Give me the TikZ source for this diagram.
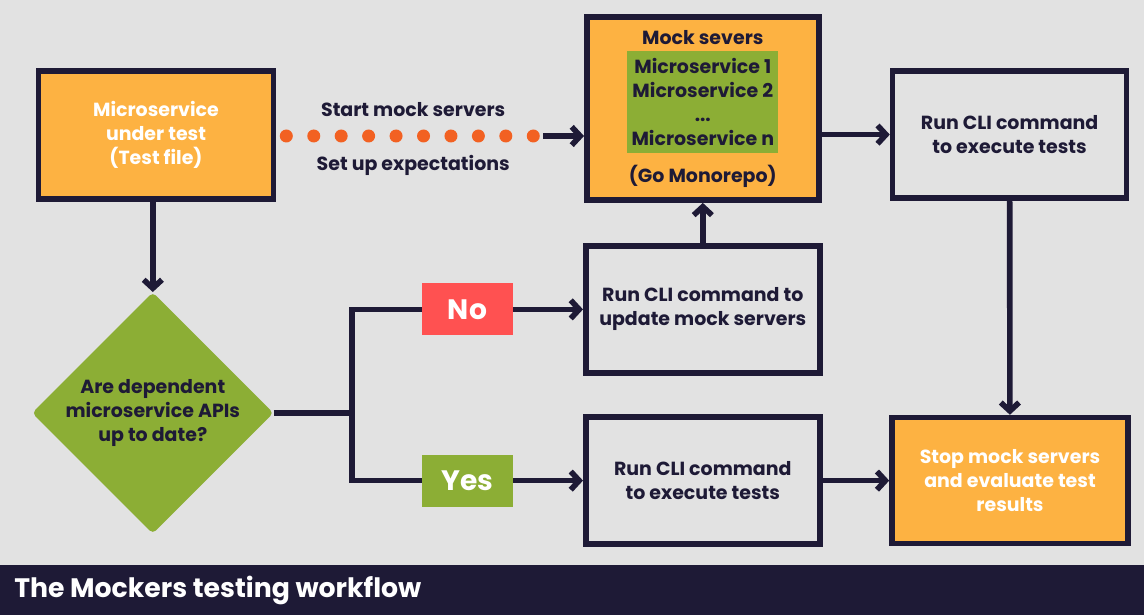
\documentclass[tikz,border=0pt]{standalone}
\usepackage{fontspec}
\setmainfont{Poppins}
\usepackage{tikz}
\usetikzlibrary{shapes.geometric, arrows.meta, positioning, calc}
\definecolor{mocknavy}{HTML}{1E1A36}
\definecolor{mockorange}{HTML}{FDB242}
\definecolor{mockgreen}{HTML}{8CAE35}
\definecolor{mockred}{HTML}{FF5151}
\definecolor{mockdot}{HTML}{F26122}
\definecolor{mockbg}{HTML}{E2E2E2}

\begin{document}
\begin{tikzpicture}[
    every node/.style={font=\fontsize{13.5}{17}\selectfont\bfseries, text=mocknavy},
    stepbox/.style={rectangle, draw=mocknavy, line width=4pt, fill=#1,
                    minimum width=5.85cm, minimum height=3.175cm, align=center},
    stepbox/.default=mockbg,
    question/.style={diamond, fill=mockgreen, aspect=1, inner sep=0pt,
                     minimum width=5.85cm, minimum height=5.85cm, align=center,
                     rounded corners=3pt},
    answer/.style={rectangle, fill=#1, text=white, minimum width=2.275cm,
                   minimum height=1.3cm, font=\fontsize{20}{24}\selectfont\bfseries},
    arrow/.style={-{Straight Barb[length=6pt,width=13pt]}, line width=4pt, mocknavy},
    line/.style={line width=4pt, mocknavy},
    dotline/.style={line width=0.325cm, mockdot, line cap=round,
                    dash pattern=on 0pt off 0.686cm}
]

% canvas and title bar
\fill[mockbg] (0,0) rectangle (28.6,15.375);
\useasboundingbox (0,0) rectangle (28.6,15.375);
\fill[mocknavy] (0,0) rectangle (28.6,1.25) ;
\node[anchor=west, text=white, inner sep=0pt, font=\fontsize{19}{22}\selectfont\bfseries]
    at (0.35,0.62) (title) {The Mockers testing workflow};

% test file
\node[stepbox=mockorange, text=white, minimum width=5.875cm, minimum height=3.2cm]
    at (3.9,12) (mut) {Microservice\\under test\\(Test file)};

% decision
\node[question] at (3.82,5.05) (dq) {Are dependent\\microservice APIs\\up to date?};

% mock servers
\node[stepbox=mockorange, minimum width=5.8cm, minimum height=4.575cm] at (17.57,12.66) (mock) {};
\node at ([yshift=-0.575cm]mock.north) (mocktitle) {Mock severs};
\node[fill=mockgreen, minimum width=3.775cm, minimum height=2.55cm, inner sep=0pt, align=center]
    at ([yshift=-2.2cm]mock.north) (mocklist)
    {Microservice 1\\Microservice 2\\...\\Microservice n};
\node at ([yshift=0.675cm]mock.south) (monorepo) {(Go Monorepo)};

% CLI steps
\node[stepbox] at (25.24,12.01) (runtop) {Run CLI command\\to execute tests};
\node[stepbox] at (17.57,7.64) (update) {Run CLI command to\\update mock servers};
\node[stepbox] at (17.57,3.36) (runmid) {Run CLI command\\to execute tests};
\node[stepbox=mockorange, text=white, minimum width=5.9cm, minimum height=3.15cm]
    at (25.25,3.36) (stop) {Stop mock servers\\and evaluate test\\results};

% dotted link to mock servers
\coordinate (dotend) at (13.38,11.975);
\draw[dotline] ([xshift=0.25cm]mut.east |- dotend) -- (dotend);
\draw[arrow] ([xshift=0.2cm]dotend) -- (dotend -| mock.west);
\node at (10.33,12.63) (startlbl) {Start mock servers};
\node at (10.33,11.23) (setuplbl) {Set up expectations};

% Arrows
\draw[arrow] (dq.north |- mut.south) -- (dq.north);
\coordinate (split) at (8.8,5.05);
\draw[line] (dq.east) -- (split);
\draw[arrow] (split) |- node[pos=0.75, answer=mockred] (no) {No} (update.west);
\draw[arrow] (split) |- node[pos=0.75, answer=mockgreen] (yes) {Yes} (runmid.west);
\draw[arrow] (update) -- (mock);
\draw[arrow] (mock.east |- runtop) -- (runtop.west);
\draw[arrow] (runtop) -- (stop);
\draw[arrow] (runmid) -- (stop);

\end{tikzpicture}
\end{document}
